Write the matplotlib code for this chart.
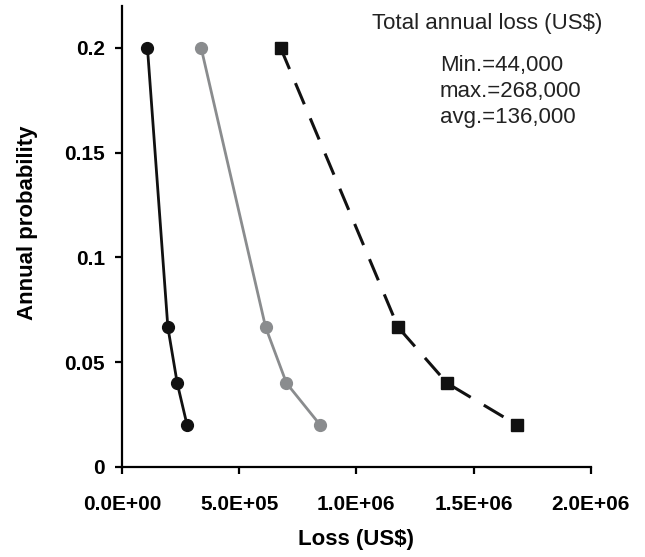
import matplotlib
matplotlib.use('Agg')
import matplotlib.pyplot as plt

# probabilita annuale e perdite per le tre curve
prob = [0.2, 0.0667, 0.04, 0.02]
loss_black = [109000, 196000, 236000, 278000]
loss_gray = [338000, 613000, 702000, 846000]
loss_dash = [677000, 1178000, 1387000, 1686000]

x_ticks = [0, 5e5, 1e6, 1.5e6, 2e6]
x_tick_labels = ['0.0E+00', '5.0E+05', '1.0E+06', '1.5E+06', '2.0E+06']
y_ticks = [0, 0.05, 0.1, 0.15, 0.2]
y_tick_labels = ['0', '0.05', '0.1', '0.15', '0.2']

stats = ['Min.=44,000', 'max.=268,000', 'avg.=136,000']

plt.rcParams['font.family'] = ['Liberation Sans', 'DejaVu Sans']

fig = plt.figure(figsize=(6.45, 5.57), dpi=100)
ax = fig.add_axes([0.189, 0.1616, 0.727, 0.8276])

ax.plot(loss_black, prob, color='#111111', lw=2.0, marker='o', ms=8.5)
ax.plot(loss_gray, prob, color='#8a8c8e', lw=2.0, marker='o', ms=8.5)
ax.plot(loss_dash, prob, color='#111111', lw=2.2, marker='s', ms=8,
        linestyle=(0, (7.5, 5)))

ax.set_xlim(0, 2e6)
ax.set_ylim(0, 0.22)
ax.set_xticks(x_ticks)
ax.set_xticklabels(x_tick_labels, fontweight='bold', fontsize=15)
ax.set_yticks(y_ticks)
ax.set_yticklabels(y_tick_labels, fontweight='bold', fontsize=15)

for s in ['top', 'right']:
    ax.spines[s].set_visible(False)
for s in ['left', 'bottom']:
    ax.spines[s].set_linewidth(1.6)
ax.tick_params(direction='out', length=5, width=1.6)
ax.tick_params(axis='x', pad=15)
ax.tick_params(axis='y', pad=7)

ax.set_xlabel('Loss (US$)', fontweight='bold', fontsize=16)
ax.set_ylabel('Annual probability', fontweight='bold', fontsize=16)
ax.xaxis.set_label_coords(0.5, -0.135)
ax.yaxis.set_label_coords(-0.18, 0.53)

ax.text(0.78, 0.961, 'Total annual loss (US$)', transform=ax.transAxes,
        ha='center', va='center', fontsize=16, color='#222222')
for i, s in enumerate(stats):
    ax.text(0.678, 0.872 - i * 0.0565, s, transform=ax.transAxes,
            ha='left', va='center', fontsize=16, color='#222222')

fig.savefig('out.png', dpi=100)
